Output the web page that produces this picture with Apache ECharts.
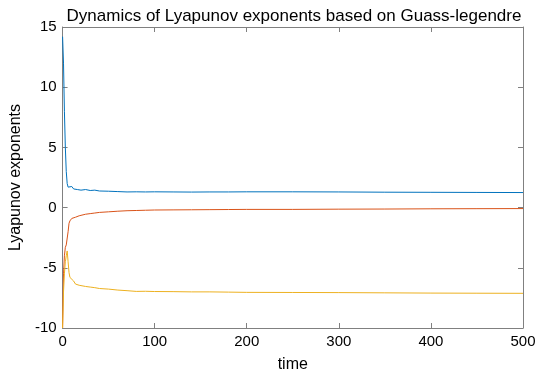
<!DOCTYPE html>
<html><head><meta charset="utf-8">
<script src="https://cdn.jsdelivr.net/npm/echarts@6/dist/echarts.min.js"></script>
<style>html,body{margin:0;padding:0;background:#fff}#c{width:550px;height:378px}</style>
</head><body><div id="c"></div>
<script>
const times  = [0,1,2,3,4,5,6,7,8,10,12,14,16,18,20,25,30,35,40,50,60,70,80,90,100,120,140,160,180,200,250,300,350,400,450,500];
const blue   = [14.2,12,8,5,3,2,1.7,1.8,1.6,1.75,1.55,1.65,1.5,1.58,1.45,1.5,1.42,1.45,1.38,1.36,1.33,1.3,1.31,1.3,1.31,1.3,1.29,1.3,1.3,1.31,1.31,1.3,1.28,1.27,1.26,1.25];
const red    = [-10,-5.5,-4,-3.3,-3.1,-3.0,-2.0,-1.3,-1.1,-0.9,-0.85,-0.8,-0.72,-0.68,-0.6,-0.55,-0.5,-0.45,-0.4,-0.35,-0.3,-0.26,-0.24,-0.22,-0.2,-0.19,-0.18,-0.17,-0.16,-0.15,-0.15,-0.13,-0.12,-0.1,-0.09,-0.08];
const yellow = [-10,-7,-5.5,-4.5,-4.0,-3.6,-4.5,-5.4,-5.8,-5.9,-6.1,-6.35,-6.3,-6.45,-6.5,-6.55,-6.6,-6.65,-6.72,-6.77,-6.85,-6.9,-6.96,-6.95,-6.97,-6.98,-7.0,-7.0,-7.02,-7.04,-7.05,-7.06,-7.08,-7.1,-7.11,-7.12];
const xTicks = [0,100,200,300,400,500];
const yTicks = [-10,-5,0,5,10,15];
const seriesNames = ['LE1','LE2','LE3'];
const colors = ['#0072BD','#D95319','#EDB120'];

const pairs = v => times.map((t,i)=>[t,v[i]]);
const axisLine = {show:true,onZero:false,lineStyle:{color:'#808080',width:1}};
const tick = {inside:true,length:5,lineStyle:{color:'#808080'}};
const font = 'Liberation Sans, Arial, sans-serif';
const chart = echarts.init(document.getElementById('c'));
chart.setOption({
  animation:false,
  title:{text:'Dynamics of Lyapunov exponents based on Guass-legendre',left:289,top:3,textAlign:'center',
    textStyle:{fontFamily:font,fontSize:17,fontWeight:'normal',color:'#000'}},
  grid:{left:60,right:27,top:27,bottom:48},
  xAxis:[
    {type:'value',min:xTicks[0],max:xTicks[xTicks.length-1],interval:100,name:'time',nameLocation:'middle',nameGap:29,
     nameTextStyle:{fontFamily:font,fontSize:16,color:'#000'},
     axisLine:axisLine,axisTick:tick,splitLine:{show:false},
     axisLabel:{fontFamily:font,fontSize:15,color:'#000',margin:6}},
    {type:'value',position:'top',min:0,max:500,interval:100,axisLine:axisLine,axisTick:tick,axisLabel:{show:false},splitLine:{show:false}}
  ],
  yAxis:[
    {type:'value',min:yTicks[0],max:yTicks[yTicks.length-1],interval:5,name:'Lyapunov exponents',nameLocation:'middle',nameGap:34,
     nameTextStyle:{fontFamily:font,fontSize:16,color:'#000'},
     axisLine:axisLine,axisTick:tick,splitLine:{show:false},
     axisLabel:{fontFamily:font,fontSize:15,color:'#000',margin:6}},
    {type:'value',position:'right',min:-10,max:15,interval:5,axisLine:axisLine,axisTick:tick,axisLabel:{show:false},splitLine:{show:false}}
  ],
  series:[blue,red,yellow].map((v,i)=>({name:seriesNames[i],type:'line',data:pairs(v),showSymbol:false,
    lineStyle:{width:1,color:colors[i]},itemStyle:{color:colors[i]}}))
});
</script></body></html>
